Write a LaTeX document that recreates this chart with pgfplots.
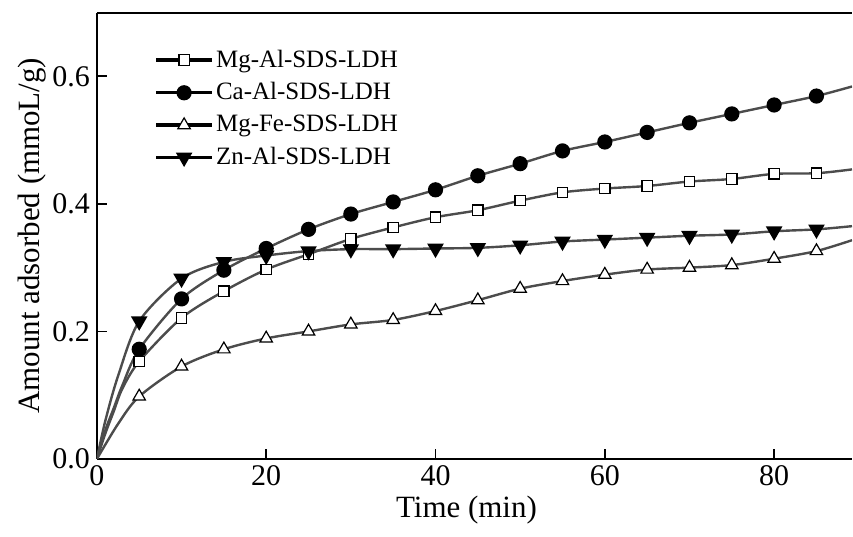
\documentclass[border=0pt]{standalone}
\usepackage{fontspec}
\setmainfont{Liberation Serif}
\usepackage{pgfplots}
\pgfplotsset{compat=1.18}
\newcommand{\legline}{\begin{pgfscope}\pgfsetfillcolor{black}\pgfpathrectangle{\pgfpoint{0pt}{-0.8pt}}{\pgfpoint{28pt}{1.6pt}}\pgfusepath{fill}\end{pgfscope}}
\begin{document}
\begin{tikzpicture}
\begin{axis}[
  scale only axis,
  width=378pt, height=223.5pt,
  at={(0,0)}, anchor=south west,
  xmin=0, xmax=89.2, ymin=0, ymax=0.7,
  axis lines=left,
  axis line style={line width=1pt, -},
  xtick={0,20,40,60,80},
  ytick={0,0.2,0.4,0.6},
  yticklabel style={/pgf/number format/.cd, fixed, fixed zerofill, precision=1},
  /pgf/number format/assume math mode=true,
  tick style={black, line width=0.8pt},
  major tick length=5pt,
  tick align=inside,
  ticklabel style={font=\fontsize{15}{18}\selectfont},
  label style={font=\fontsize{15.5}{18}\selectfont},
  xlabel={Time (min)},
  ylabel={Amount adsorbed (mmoL/g)},
  xlabel style={yshift=2pt, xshift=-4pt},
  ylabel style={yshift=-4pt},
  legend style={draw=none, fill=none, at={(0.07,0.935)}, anchor=north west,
    font=\fontsize{12.5}{14}\selectfont, row sep=2.2pt},
  legend cell align=left,
  legend image code/.code={\legline\draw[#1] plot coordinates {(14pt,0pt)};},
]
% lines
\pgfplotsset{every axis plot/.append style={line width=1.2pt, color=black!70, smooth}}
\addplot[forget plot, black!70] coordinates {
(0,0) (1,0.04) (2,0.075) (3,0.11) (5,0.153) (10,0.221) (15,0.263) (20,0.297) (25,0.321) (30,0.345) (35,0.363) (40,0.379) (45,0.390) (50,0.405) (55,0.418) (60,0.424) (65,0.428) (70,0.435) (75,0.439) (80,0.447) (85,0.448) (89.2,0.454)};
\addplot[forget plot, black!70] coordinates {
(0,0) (1,0.045) (2,0.08) (3,0.115) (5,0.172) (10,0.251) (15,0.296) (20,0.330) (25,0.360) (30,0.384) (35,0.403) (40,0.422) (45,0.444) (50,0.463) (55,0.483) (60,0.497) (65,0.512) (70,0.527) (75,0.541) (80,0.555) (85,0.569) (89.2,0.584)};
\addplot[forget plot, black!70] coordinates {
(0,0) (2.5,0.055) (5,0.098) (10,0.145) (15,0.172) (20,0.189) (25,0.200) (30,0.211) (35,0.218) (40,0.232) (45,0.249) (50,0.267) (55,0.279) (60,0.289) (65,0.297) (70,0.300) (75,0.304) (80,0.314) (85,0.326) (89.2,0.343)};
\addplot[forget plot, black!70] coordinates {
(0,0) (1,0.06) (2.5,0.13) (5,0.216) (10,0.283) (15,0.309) (20,0.319) (25,0.326) (30,0.329) (35,0.329) (40,0.330) (45,0.331) (50,0.335) (55,0.341) (60,0.344) (65,0.347) (70,0.350) (75,0.352) (80,0.357) (85,0.360) (89.2,0.365)};
% marks
\addplot[only marks, black, mark=square*, mark size=2.6pt, mark options={draw=black, fill=white, line width=0.6pt}] coordinates {
(5,0.153) (10,0.221) (15,0.263) (20,0.297) (25,0.321) (30,0.345) (35,0.363) (40,0.379) (45,0.390) (50,0.405) (55,0.418) (60,0.424) (65,0.428) (70,0.435) (75,0.439) (80,0.447) (85,0.448)};
\addlegendentry{Mg-Al-SDS-LDH}
\addplot[only marks, black, mark=*, mark size=3.2pt, mark options={draw=black, fill=black}] coordinates {
(5,0.172) (10,0.251) (15,0.296) (20,0.330) (25,0.360) (30,0.384) (35,0.403) (40,0.422) (45,0.444) (50,0.463) (55,0.483) (60,0.497) (65,0.512) (70,0.527) (75,0.541) (80,0.555) (85,0.569)};
\addlegendentry{Ca-Al-SDS-LDH}
\addplot[only marks, black, mark=triangle*, mark size=3.6pt, mark options={draw=black, fill=white, line width=0.6pt}] coordinates {
(5,0.098) (10,0.145) (15,0.172) (20,0.189) (25,0.200) (30,0.211) (35,0.218) (40,0.232) (45,0.249) (50,0.267) (55,0.279) (60,0.289) (65,0.297) (70,0.300) (75,0.304) (80,0.314) (85,0.326)};
\addlegendentry{Mg-Fe-SDS-LDH}
\addplot[only marks, black, mark=triangle*, mark size=3.6pt, mark options={draw=black, fill=black, rotate=180}] coordinates {
(5,0.216) (10,0.283) (15,0.309) (20,0.319) (25,0.326) (30,0.329) (35,0.329) (40,0.330) (45,0.331) (50,0.335) (55,0.341) (60,0.344) (65,0.347) (70,0.350) (75,0.352) (80,0.357) (85,0.360)};
\addlegendentry{Zn-Al-SDS-LDH}
\draw[line width=1pt] (rel axis cs:0,1) -- (rel axis cs:1,1);
\end{axis}
\useasboundingbox (-48.5pt,-38.75pt) rectangle (378pt,229.75pt);
\end{tikzpicture}
\end{document}
